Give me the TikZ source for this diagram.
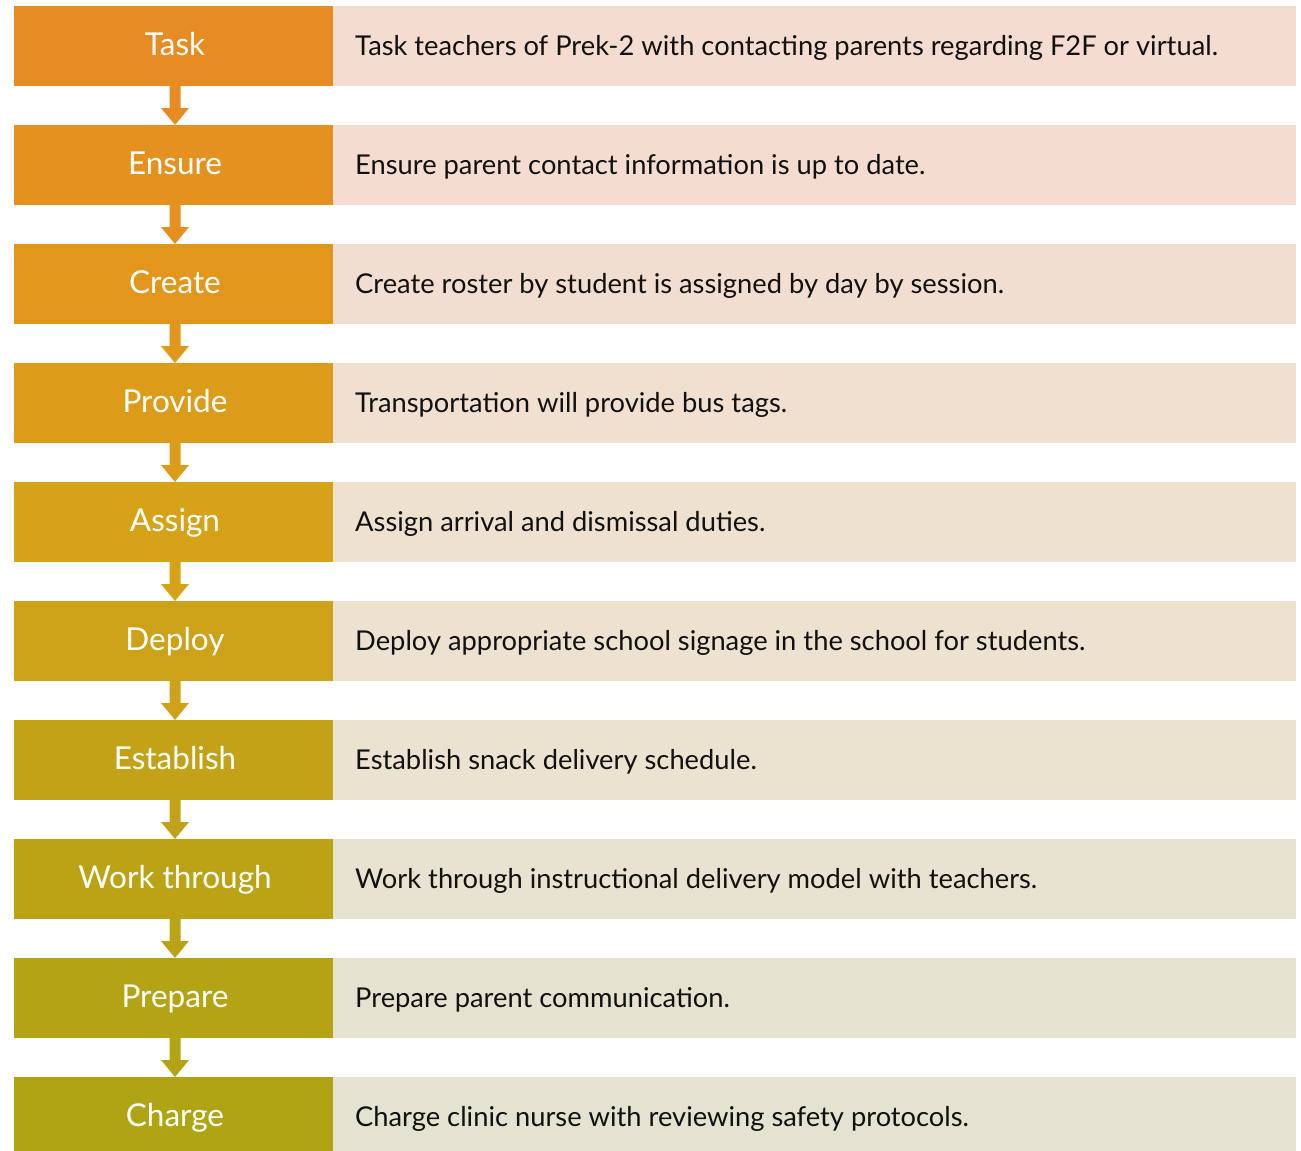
\documentclass[tikz,border=0pt]{standalone}
\usepackage{fontspec}
\setmainfont{Lato}
\usetikzlibrary{calc}
\definecolor{L0}{HTML}{E68C23}\definecolor{R0}{HTML}{F5DCD0}
\definecolor{L1}{HTML}{E5911F}\definecolor{R1}{HTML}{F4DDD0}
\definecolor{L2}{HTML}{E3961C}\definecolor{R2}{HTML}{F2DED0}
\definecolor{L3}{HTML}{DC9C1A}\definecolor{R3}{HTML}{F1DFD0}
\definecolor{L4}{HTML}{D6A218}\definecolor{R4}{HTML}{EFE1D0}
\definecolor{L5}{HTML}{CDA219}\definecolor{R5}{HTML}{EDE1D0}
\definecolor{L6}{HTML}{C4A218}\definecolor{R6}{HTML}{EBE2D0}
\definecolor{L7}{HTML}{BCA316}\definecolor{R7}{HTML}{E8E3D0}
\definecolor{L8}{HTML}{B4A415}\definecolor{R8}{HTML}{E6E2D0}
\definecolor{L9}{HTML}{AFA514}\definecolor{R9}{HTML}{E4E2D0}
\definecolor{txt}{HTML}{111111}
\begin{document}
\begin{tikzpicture}[x=1pt,y=-1pt,
  leftbox/.style={minimum width=319pt,minimum height=80pt,inner sep=0pt,outer sep=0pt,anchor=center},
  rightbox/.style={minimum width=963pt,minimum height=80pt,inner sep=0pt,outer sep=0pt,anchor=west},
  lab/.style={text=white,font=\fontsize{31.5}{36}\selectfont,anchor=base,inner sep=0pt},
  desc/.style={text=txt,font=\fontsize{27.3}{31}\selectfont,anchor=base west,inner sep=0pt}]
\useasboundingbox (0,0) rectangle (1301,1151);
\begin{scope}
\clip (0,0) rectangle (1301,1151);
\foreach \i/\lab/\des in {
 0/Task/Task teachers of Prek-2 with contacting parents regarding F2F or virtual.,
 1/Ensure/Ensure parent contact information is up to date.,
 2/Create/Create roster by student is assigned by day by session.,
 3/Provide/Transportation will provide bus tags.,
 4/Assign/Assign arrival and dismissal duties.,
 5/Deploy/Deploy appropriate school signage in the school for students.,
 6/Establish/Establish snack delivery schedule.,
 7/Work through/Work through instructional delivery model with teachers.,
 8/Prepare/Prepare parent communication.,
 9/Charge/Charge clinic nurse with reviewing safety protocols.}{
  \node[rightbox,fill=R\i] (r\i) at (333,46+119*\i) {};
  \node[leftbox,fill=L\i] (l\i) at (173.5,46+119*\i) {};
  \node[lab] (t\i) at (175,55.5+119*\i) {\lab};
  \node[desc] (d\i) at (355,55+119*\i) {\des};
}
\foreach \i [evaluate=\i as \j using int(\i+1)] in {0,...,8}{
  \fill[L\i] ($(l\i.south)+(-4,0)$) -- ($(l\i.south)+(7,0)$) -- ($(l\j.north)+(7,-17)$)
    -- ($(l\j.north)+(15.5,-17)$) -- ($(l\j.north)+(1.5,0)$) -- ($(l\j.north)+(-12.5,-17)$)
    -- ($(l\j.north)+(-4,-17)$) -- cycle;
}
\end{scope}
\end{tikzpicture}
\end{document}
